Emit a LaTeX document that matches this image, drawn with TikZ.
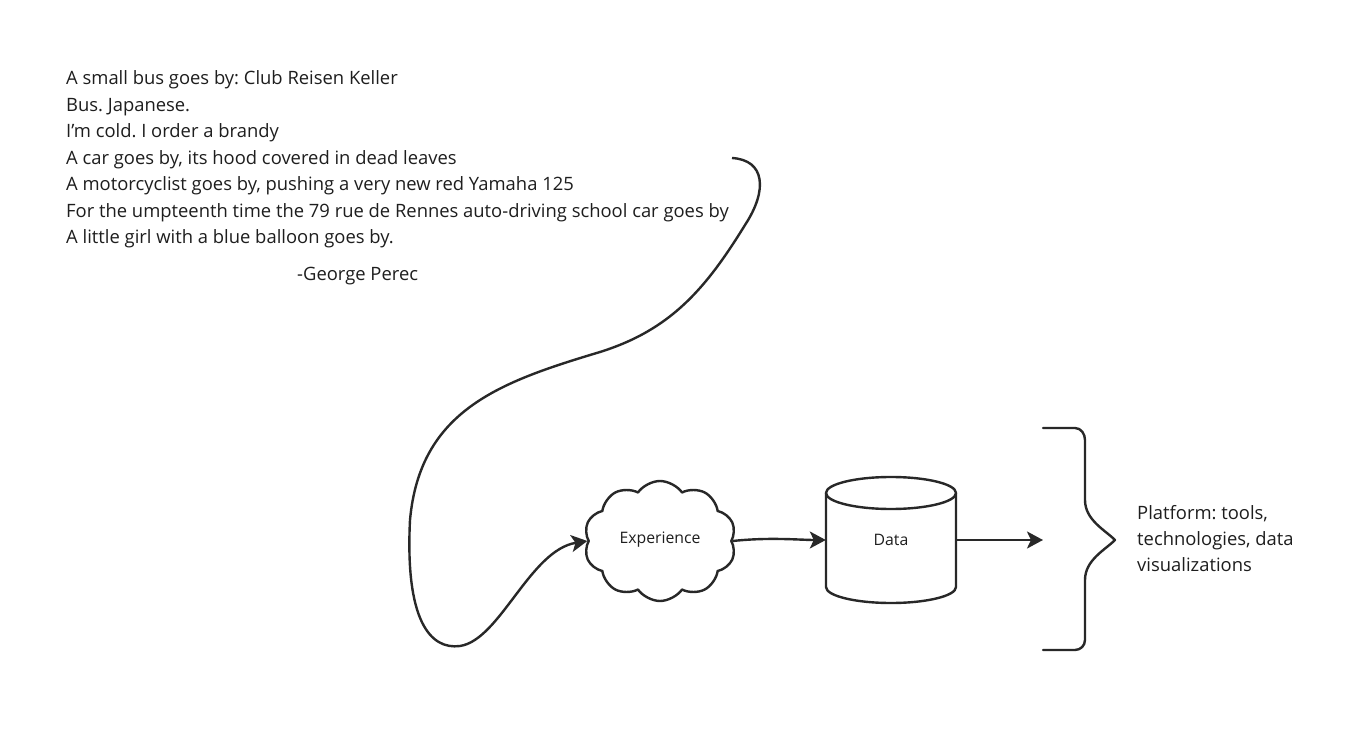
\documentclass[tikz,border=0pt]{standalone}
\usepackage{fontspec}
\setmainfont{Open Sans}
\usetikzlibrary{arrows.meta,shapes.symbols}
\definecolor{ink}{RGB}{30,30,30}
\definecolor{edge}{RGB}{40,40,40}
\tikzset{
  quote/.style={anchor=base west,inner sep=0pt,text=ink,font=\fontsize{18.4}{22}\selectfont},
  lbl/.style={inner sep=0pt,text=ink,font=\fontsize{15.8}{18}\selectfont},
  arr/.style={draw=edge,line width=2.4pt,-{Stealth[length=16pt,width=17pt,inset=4pt]}},
  shp/.style={draw=edge,line width=2.4pt,line join=round},
}
\frenchspacing
\begin{document}
\begin{tikzpicture}[x=1pt,y=-1pt]
\useasboundingbox[fill=white] (0,0) rectangle (1369,730);
% quote
\node[quote] (q1) at (66,85) {A small bus goes by: Club Reisen Keller};
\node[quote] (q2) at (66,111.5) {Bus. Japanese.};
\node[quote] (q3) at (66,138) {I’m cold. I order a brandy};
\node[quote] (q4) at (66,164.5) {A car goes by, its hood covered in dead leaves};
\node[quote] (q5) at (66,191) {A motorcyclist goes by, pushing a very new red Yamaha 125};
\node[quote] (q6) at (66,217.5) {For the umpteenth time the 79 rue de Rennes auto-driving school car goes by};
\node[quote] (q7) at (66,244) {A little girl with a blue balloon goes by.};
\node[quote] (q8) at (297,281) {-George Perec};
% cloud
\node[cloud,shp,cloud puffs=10,cloud puff arc=110,aspect=1.3,minimum width=152pt,minimum height=120pt,inner sep=0pt] (exp) at (660,541) {};
\node[lbl] (expl) at (660,540) {Experience};
% cylinder
\node[minimum width=130pt,minimum height=126pt,inner sep=0pt] (data) at (891,540) {};
\draw[shp] (826,493) -- (826,587) arc[start angle=180,end angle=360,x radius=65,y radius=-16] -- (956,493);
\draw[shp] (891,493) ellipse[x radius=65,y radius=16];
\node[lbl] (datal) at (891,540) {Data};
% brace
\coordinate (bt) at (1043,540);
\draw[shp,line cap=round] (1043,428) -- (1075,428) to[out=0,in=90] (1085,440) -- (1085,500)
  .. controls (1085,520) and (1105,530) .. (1115,540)
  .. controls (1105,550) and (1085,560) .. (1085,580) -- (1085,640) to[out=270,in=0] (1075,650) -- (1043,650);
\node[quote] (p1) at (1137,519) {Platform: tools,};
\node[quote] (p2) at (1137,545) {technologies, data};
\node[quote] (p3) at (1137,571) {visualizations};
% connectors
\coordinate (s) at (732,158);
\draw[arr] (s) .. controls (765,160) and (768,190) .. (745,225)
  .. controls (705,290) and (670,330) .. (600,352)
  .. controls (500,382) and (420,410) .. (410,520)
  .. controls (405,620) and (430,650) .. (460,646)
  .. controls (500,640) and (530,550) .. (exp.west);
\draw[arr] (exp.east) .. controls (770,537) and (800,540) .. (data.west);
\draw[arr] (data.east) -- (bt);
\end{tikzpicture}
\end{document}
